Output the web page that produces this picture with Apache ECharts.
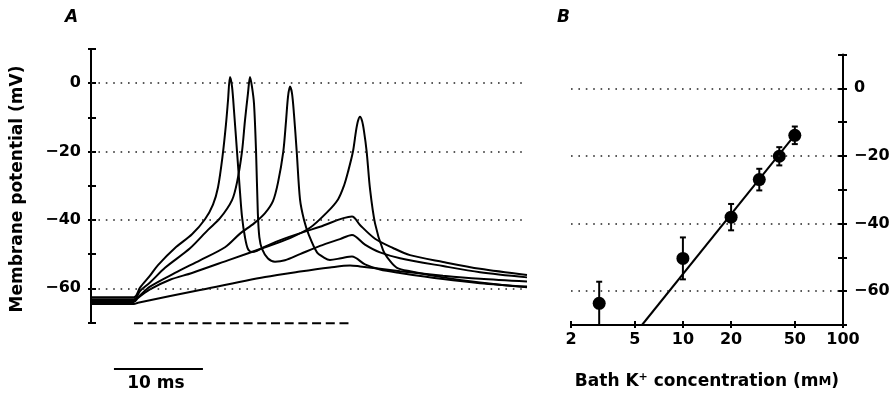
<!DOCTYPE html>
<html>
<head>
<meta charset="utf-8">
<script src="https://cdn.jsdelivr.net/npm/echarts@6/dist/echarts.min.js"></script>
<style>
html,body{margin:0;padding:0;background:#fff;}
#chart{width:893px;height:395px;}
</style>
</head>
<body>
<div id="chart"></div>
<script>
// ---------- Panel A: membrane potential traces, [time ms, mV] ----------
const trace1 = [[0,-62.6],[4.83,-62.6],[5.51,-59.8],[6.63,-56.3],[7.53,-53.2],[9.44,-48.2],[11.35,-44.2],[12.81,-39.8],[13.71,-35.5],[14.27,-30.5],[14.80,-21],[15.17,-12],[15.40,-5],[15.62,1.8],[15.85,-1],[16.07,-8],[16.41,-20],[16.75,-32],[16.97,-39],[17.30,-45],[17.64,-48.5],[18.09,-49.4],[18.66,-49],[19.56,-47.8],[21.80,-45.4],[25.74,-42],[29.33,-39],[30.23,-41.5],[31.92,-45.5],[33.94,-48.2],[35.85,-50.3],[39.56,-52.3],[43.72,-54.3],[49.0,-56.1]];
const trace2 = [[0,-63.2],[4.83,-63.2],[5.51,-60.8],[6.63,-58.3],[8.32,-54.0],[11.13,-48.3],[13.15,-42.9],[14.50,-39.5],[15.85,-34.2],[16.41,-29],[16.97,-20],[17.30,-11],[17.64,-3],[17.87,1.8],[18.09,-1],[18.32,-6],[18.55,-20],[18.75,-38],[18.92,-45],[19.22,-48.5],[19.89,-51.3],[20.68,-52.2],[21.80,-51.8],[23.49,-50.0],[25.74,-47.6],[27.98,-45.6],[29.33,-44.4],[30.79,-47.2],[32.48,-49.5],[34.73,-51.2],[39.56,-53.5],[43.72,-55.3],[49.0,-56.8]];
const trace3 = [[0,-63.6],[4.83,-63.6],[5.28,-62.6],[6.63,-59.5],[9.44,-55.5],[12.25,-51.8],[15.06,-48],[16.75,-44],[18.32,-41],[19.56,-38],[20.45,-34.5],[21.02,-29],[21.61,-20],[21.92,-11],[22.14,-4],[22.36,-1],[22.59,-3],[22.81,-9],[23.12,-20],[23.49,-34],[23.94,-40],[24.50,-44.5],[25.40,-49.5],[26.18,-51],[26.86,-51.7],[28.10,-51.2],[29.33,-50.7],[30.79,-53],[32.48,-54.5],[34.73,-55.5],[39.56,-57.3],[43.72,-58.5],[49.0,-59.5]];
const trace4 = [[0,-64.0],[4.83,-64.0],[5.28,-62.8],[6.63,-60.3],[8.88,-57.5],[11.35,-55.5],[15.62,-51.6],[19.56,-48],[22.36,-45.3],[24.61,-42.3],[26.52,-37.8],[27.76,-34],[28.43,-30],[28.88,-26],[29.44,-20],[29.78,-14],[30.01,-11],[30.23,-9.8],[30.46,-11],[30.68,-14],[30.98,-20],[31.36,-31],[31.92,-41],[32.82,-48.8],[33.60,-52],[34.39,-54],[35.85,-55],[39.56,-56.8],[43.72,-58.3],[49.0,-59.7]];
const trace5 = [[0,-64.6],[4.83,-64.6],[5.28,-64.2],[12.25,-60.5],[19.56,-56.7],[23.49,-55.1],[26.86,-53.9],[29.11,-53.3],[30.23,-53.6],[34.73,-55.0],[39.56,-56.3],[43.72,-57.2],[49.0,-58.0]];
const stimulusTime = [4.83, 29.33];   // ms, current step (dashed bar)
const stimulusLevel = -70.2;          // mV (drawn at the foot of the axis)
const scaleBarTime = [2.58, 12.58];   // 10 ms calibration bar
const scaleBarLevel = -83.6;
const gridLevelsA = [0, -20, -40, -60];

// ---------- Panel B: resting potential vs bath K+ ----------
const bathK = [3, 10, 20, 30, 40, 50];                     // mM
const meanV = [-63.6, -50.3, -38.1, -27.0, -20.1, -13.9];  // mV
const semV  = [6.4, 6.2, 3.9, 3.2, 2.7, 2.6];
const fitK = [5.55, 52];
const fitV = [-70, -12.8];
const kTicks = [2, 5, 10, 20, 50, 100];
const gridLevelsB = [0, -20, -40, -60];

const FONT = 'DejaVu Sans';
const minus = v => (v < 0 ? '\u2212' + Math.abs(v) : String(v));
const yLabel = v => (v <= 0 && v % 20 === 0 ? minus(v) : '');

const chart = echarts.init(document.getElementById('chart'), null, {renderer: 'canvas'});

const dotted = {color: '#222', width: 1.6, type: [1.6, 5.8]};
const traceStyle = {color: '#000', width: 2};

function traceSeries(d, extra) {
  return Object.assign({
    type: 'line', xAxisIndex: 0, yAxisIndex: 0, data: d, showSymbol: false,
    smooth: 0.3, lineStyle: traceStyle, silent: true, animation: false
  }, extra || {});
}

const option = {
  animation: false,
  grid: [
    {left: 91, top: 49, width: 436, height: 273.5},
    {left: 571, top: 54.5, width: 272, height: 271.5}
  ],
  xAxis: [
    {gridIndex: 0, type: 'value', min: 0, max: 49, show: false},
    {gridIndex: 1, type: 'log', logBase: 10, min: 2, max: 100, position: 'bottom',
     axisLine: {onZero: false, lineStyle: {color: '#000', width: 2}},
     axisTick: {inside: true, length: 4, lineStyle: {color: '#000', width: 2}, customValues: kTicks},
     axisLabel: {customValues: kTicks, color: '#000', fontFamily: FONT, fontWeight: 'bold', fontSize: 16, margin: 7, formatter: v => String(Math.round(v))},
     splitLine: {show: false}, minorTick: {show: false},
     name: 'Bath K{sup|+} concentration (m{sc|M})', nameLocation: 'middle', nameGap: 47,
     nameTextStyle: {color: '#000', fontFamily: FONT, fontWeight: 'bold', fontSize: 17,
       rich: {sup: {fontSize: 11, fontFamily: FONT, fontWeight: 'bold', color: '#000', verticalAlign: 'top', padding: [0, 0, 8, 0]},
              sc: {fontSize: 13, fontFamily: FONT, fontWeight: 'bold', color: '#000'}}}},
    {gridIndex: 1, type: 'log', logBase: 10, min: 2, max: 100, position: 'bottom',
     axisLine: {show: false, onZero: false}, axisLabel: {show: false}, splitLine: {show: false},
     axisTick: {inside: false, length: 3, lineStyle: {color: '#000', width: 2}, customValues: kTicks}}
  ],
  yAxis: [
    {gridIndex: 0, type: 'value', position: 'left', min: -70, max: 10, interval: 10,
     axisLine: {show: true, onZero: false, lineStyle: {color: '#000', width: 2}},
     axisTick: {show: true, inside: true, length: 5, lineStyle: {color: '#000', width: 2}},
     axisLabel: {formatter: yLabel, color: '#000', fontFamily: FONT, fontWeight: 'bold', fontSize: 16, margin: 10},
     splitLine: {show: false}},
    {gridIndex: 0, type: 'value', position: 'left', min: -70, max: 10, interval: 10,
     axisLine: {show: false, onZero: false}, axisLabel: {show: false}, splitLine: {show: false},
     axisTick: {show: true, inside: false, length: 3, lineStyle: {color: '#000', width: 2}}},
    {gridIndex: 1, type: 'value', position: 'right', min: -70, max: 10, interval: 10,
     axisLine: {show: true, onZero: false, lineStyle: {color: '#000', width: 2}},
     axisTick: {show: true, inside: true, length: 5, lineStyle: {color: '#000', width: 2}},
     axisLabel: {formatter: yLabel, color: '#000', fontFamily: FONT, fontWeight: 'bold', fontSize: 16, margin: 11},
     splitLine: {show: false}},
    {gridIndex: 1, type: 'value', position: 'right', min: -70, max: 10, interval: 10,
     axisLine: {show: false, onZero: false}, axisLabel: {show: false}, splitLine: {show: false},
     axisTick: {show: true, inside: false, length: 4, lineStyle: {color: '#000', width: 2}}}
  ],
  series: [
    traceSeries(trace5, {markLine: {silent: true, symbol: 'none', label: {show: false}, lineStyle: dotted,
      data: gridLevelsA.map(v => ({yAxis: v}))}}),
    traceSeries(trace4),
    traceSeries(trace3),
    traceSeries(trace2),
    traceSeries(trace1),
    {type: 'line', xAxisIndex: 0, yAxisIndex: 0, clip: false, showSymbol: false, silent: true,
     data: stimulusTime.map(t => [t, stimulusLevel]),
     lineStyle: {color: '#000', width: 2, type: [9, 4.7]}},
    {type: 'line', xAxisIndex: 0, yAxisIndex: 0, clip: false, showSymbol: false, silent: true,
     data: scaleBarTime.map(t => [t, scaleBarLevel]),
     lineStyle: {color: '#000', width: 2}},
    // Panel B
    {type: 'line', xAxisIndex: 1, yAxisIndex: 2, showSymbol: false, silent: true,
     data: fitK.map((k, i) => [k, fitV[i]]), lineStyle: {color: '#000', width: 2},
     markLine: {silent: true, symbol: 'none', label: {show: false}, lineStyle: dotted,
       data: gridLevelsB.map(v => ({yAxis: v}))}},
    {type: 'custom', xAxisIndex: 1, yAxisIndex: 2, silent: true,
     data: bathK.map((k, i) => [k, meanV[i] - semV[i], meanV[i] + semV[i]]),
     renderItem: function (params, api) {
       const lo = api.coord([api.value(0), api.value(1)]);
       const hi = api.coord([api.value(0), api.value(2)]);
       const w = 3;
       const st = {stroke: '#000', lineWidth: 2, fill: null};
       return {type: 'group', children: [
         {type: 'line', shape: {x1: lo[0], y1: lo[1], x2: hi[0], y2: hi[1]}, style: st},
         {type: 'line', shape: {x1: lo[0] - w, y1: lo[1], x2: lo[0] + w, y2: lo[1]}, style: st},
         {type: 'line', shape: {x1: hi[0] - w, y1: hi[1], x2: hi[0] + w, y2: hi[1]}, style: st}
       ]};
     }},
    {type: 'scatter', xAxisIndex: 1, yAxisIndex: 2, silent: true, symbol: 'circle', symbolSize: 13,
     itemStyle: {color: '#000', opacity: 1}, data: bathK.map((k, i) => [k, meanV[i]])}
  ],
  graphic: [
    {type: 'text', left: 65, top: 9, style: {text: 'A', font: 'italic bold 17px ' + FONT, fill: '#000'}},
    {type: 'text', left: 557, top: 9, style: {text: 'B', font: 'italic bold 17px ' + FONT, fill: '#000'}},
    {type: 'text', x: 18, y: 189, rotation: Math.PI / 2,
     style: {text: 'Membrane potential (mV)', font: 'bold 17px ' + FONT, fill: '#000', align: 'center', verticalAlign: 'middle'}},
    {type: 'text', x: 156, y: 384,
     style: {text: '10 ms', font: 'bold 17px ' + FONT, fill: '#000', align: 'center', verticalAlign: 'middle'}}
  ]
};
chart.setOption(option);
</script>
</body>
</html>
